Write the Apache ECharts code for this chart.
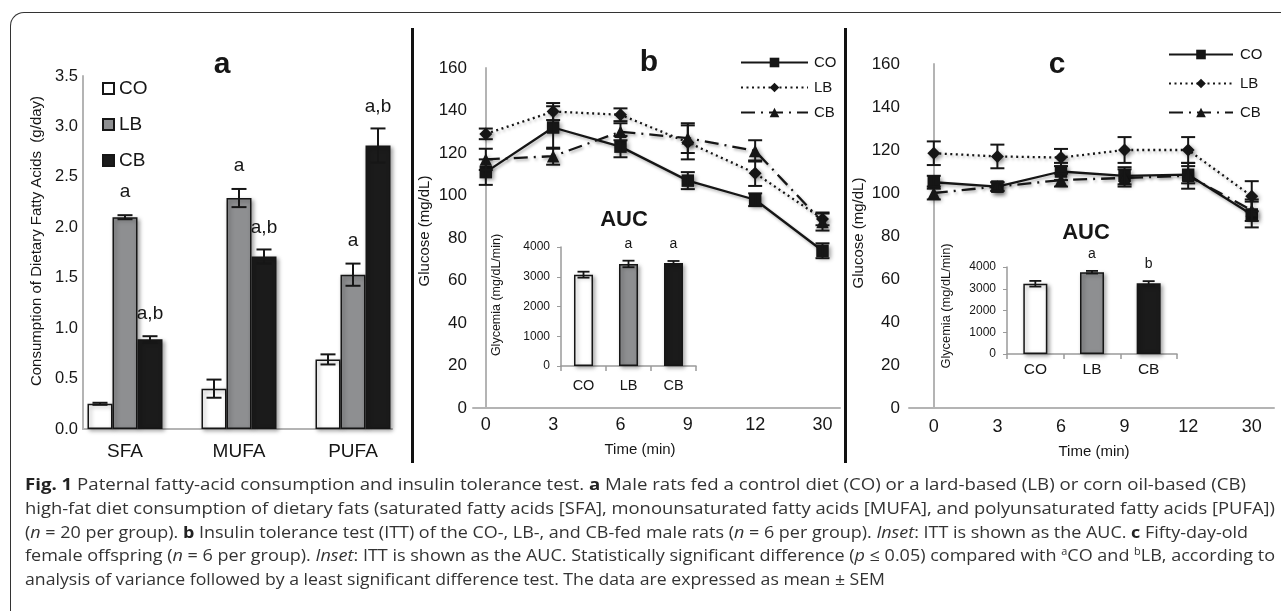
<!DOCTYPE html>
<html>
<head>
<meta charset="utf-8">
<script src="https://cdn.jsdelivr.net/npm/echarts/dist/echarts.min.js"></script>
<style>
  html, body { margin: 0; padding: 0; background: #fff; }
  body { width: 1281px; height: 611px; overflow: hidden; position: relative; }
  #chart { position: absolute; left: 0; top: 0; width: 1281px; height: 611px; }
  #frame { position: absolute; left: 10px; top: 12px; width: 1400px; height: 700px;
           border-top: 1.4px solid #333; border-left: 1.4px solid #333; border-top-left-radius: 14px; pointer-events: none; }
  .sep { position: absolute; top: 28px; width: 3px; height: 435px; background: #111; }
  #caption { position: absolute; left: 25px; top: 472px; font-family: "Open Sans", "Noto Sans", sans-serif;
             font-size: 16.5px; color: #333; line-height: 23.8px; }
  #caption .ln { white-space: nowrap; display: block; transform-origin: 0 50%; width: max-content; }
  #caption b { color: #222; font-weight: 700; }
  #caption sup { font-size: 10px; line-height: 0; vertical-align: 6px; }
</style>
</head>
<body>
<div id="chart"></div>
<div id="frame"></div>
<div class="sep" style="left:411px"></div>
<div class="sep" style="left:844px"></div>
<div id="caption">
  <span class="ln" data-w="1221"><b>Fig. 1</b> Paternal fatty-acid consumption and insulin tolerance test. <b>a</b> Male rats fed a control diet (CO) or a lard-based (LB) or corn oil-based (CB)</span>
  <span class="ln" data-w="1250">high-fat diet consumption of dietary fats (saturated fatty acids [SFA], monounsaturated fatty acids [MUFA], and polyunsaturated fatty acids [PUFA])</span>
  <span class="ln" data-w="1223">(<i>n</i> = 20 per group). <b>b</b> Insulin tolerance test (ITT) of the CO-, LB-, and CB-fed male rats (<i>n</i> = 6 per group). <i>Inset</i>: ITT is shown as the AUC. <b>c</b> Fifty-day-old</span>
  <span class="ln" data-w="1250">female offspring (<i>n</i> = 6 per group). <i>Inset</i>: ITT is shown as the AUC. Statistically significant difference (<i>p</i> ≤ 0.05) compared with <sup>a</sup>CO and <sup>b</sup>LB, according to</span>
  <span class="ln" data-w="860">analysis of variance followed by a least significant difference test. The data are expressed as mean ± SEM</span>
</div>
<script>
// ---------------- DATA ----------------
const faCategories = ['SFA', 'MUFA', 'PUFA'];
const faCO    = [0.25, 0.40, 0.69];
const faCOErr = [0.01, 0.09, 0.05];
const faLB    = [2.10, 2.29, 1.53];
const faLBErr = [0.02, 0.09, 0.11];
const faCB    = [0.89, 1.71, 2.81];
const faCBErr = [0.03, 0.07, 0.17];
const faCOSig = ['', '', ''];
const faLBSig = ['a', 'a', 'a'];
const faCBSig = ['a,b', 'a,b', 'a,b'];

const timeLabels = ['0', '3', '6', '9', '12', '30'];
// panel b: male rats ITT
const bCO    = [111, 132, 123, 107, 98, 74];
const bCOErr = [6, 10, 5, 4, 3, 3.5];
const bLB    = [129, 139.5, 138, 125, 110.5, 89];
const bLBErr = [2.5, 4, 3, 8, 6, 3];
const bCB    = [117, 118.5, 130, 127, 121, 87.5];
const bCBErr = [5, 4, 4, 7, 5, 4];
// panel c: female offspring ITT
const cCO    = [105, 103, 110, 108, 108.5, 90];
const cCOErr = [3, 2, 4, 4, 4, 6];
const cLB    = [118.5, 117, 116.5, 120, 120, 98.5];
const cLBErr = [5.5, 5.5, 4, 6, 6, 7];
const cCB    = [100, 103, 106, 107, 108, 92];
const cCBErr = [3, 2, 3, 4, 6, 5];

// AUC insets
const aucGroups = ['CO', 'LB', 'CB'];
const bAUC    = [3070, 3430, 3460];
const bAUCErr = [100, 110, 70];
const bAUCSig = ['', 'a', 'a'];
const cAUC    = [3230, 3760, 3250];
const cAUCErr = [130, 60, 100];
const cAUCSig = ['', 'a', 'b'];

// ---------------- STYLE ----------------
const FONT = '"Liberation Sans", Arial, Helvetica, sans-serif';
const INK = '#161616';
const AXIS_GRAY = '#b4b4b4';
const groupColors = ['#ffffff', '#8e8f91', '#1b1b1b'];
const barShadow = { shadowColor: 'rgba(0,0,0,0.35)', shadowBlur: 4, shadowOffsetX: 2, shadowOffsetY: 2 };

function errSeries(xi, yi, vals, errs, offset, capW, lw, labels, labelGap, labelSize) {
  return {
    type: 'custom', xAxisIndex: xi, yAxisIndex: yi, z: 6, silent: true,
    data: vals.map((v, i) => [i, v, errs[i]]),
    renderItem: function (params, api) {
      const x = api.value(0), v = api.value(1), e = api.value(2);
      const top = api.coord([x, v + e]);
      const bot = api.coord([x, v - e]);
      const cx = top[0] + offset, h = capW / 2;
      const st = { stroke: INK, lineWidth: lw };
      const ch = [
        { type: 'line', shape: { x1: cx, y1: top[1], x2: cx, y2: bot[1] }, style: st },
        { type: 'line', shape: { x1: cx - h, y1: top[1], x2: cx + h, y2: top[1] }, style: st },
        { type: 'line', shape: { x1: cx - h, y1: bot[1], x2: cx + h, y2: bot[1] }, style: st }
      ];
      const lab = labels ? labels[params.dataIndex] : '';
      if (lab) {
        ch.push({ type: 'text', x: cx, y: top[1] - labelGap,
          style: { text: lab, fill: INK, font: labelSize + 'px ' + FONT, textAlign: 'center', textVerticalAlign: 'middle' } });
      }
      return { type: 'group', children: ch };
    }
  };
}

function idxFormatter(v) {
  const r = Math.round(v);
  return Math.abs(v - r) < 1e-6 && r >= 0 && r < timeLabels.length ? timeLabels[r] : '';
}

function lineSeries(name, xi, yi, vals, symbol, size, lineType) {
  return {
    name: name, type: 'line', xAxisIndex: xi, yAxisIndex: yi, z: 4,
    data: vals.map((v, i) => [i, v]),
    symbol: symbol, symbolSize: size, showSymbol: true,
    itemStyle: { color: INK, shadowColor: 'rgba(0,0,0,0.4)', shadowBlur: 4, shadowOffsetX: 2, shadowOffsetY: 2 },
    lineStyle: { color: INK, width: 2.3, type: lineType, shadowColor: 'rgba(0,0,0,0.3)', shadowBlur: 3, shadowOffsetX: 1.5, shadowOffsetY: 2 },
    emphasis: { disabled: true }
  };
}

function text(x, y, str, size, bold, rot) {
  return { type: 'text', x: x, y: y, rotation: rot || 0, silent: true,
    style: { text: str, fill: INK, font: (bold ? 'bold ' : '') + size + 'px ' + FONT, textAlign: 'center', textVerticalAlign: 'middle' } };
}

const chart = echarts.init(document.getElementById('chart'), null, { renderer: 'canvas' });

const hiddenAxis = { axisLine: { show: false }, axisTick: { show: false }, axisLabel: { show: false }, splitLine: { show: false } };
const plain = v => String(v);

const option = {
  backgroundColor: '#ffffff',
  animation: false,
  textStyle: { fontFamily: FONT, color: INK },
  grid: [
    { left: 83, top: 76, width: 309, height: 353 },   // 0 panel a frame
    { left: 68, top: 76, width: 342, height: 353 },   // 1 panel a bars
    { left: 473, top: 68, width: 367, height: 340 },  // 2 panel b lines
    { left: 561, top: 247, width: 135, height: 119 }, // 3 panel b inset
    { left: 909, top: 64, width: 365, height: 344 },  // 4 panel c lines
    { left: 1007, top: 267, width: 170, height: 87 }  // 5 panel c inset
  ],
  xAxis: [
    Object.assign({ type: 'category', gridIndex: 0, data: faCategories }, hiddenAxis,
      { axisLine: { show: true, lineStyle: { color: AXIS_GRAY, width: 2 } } }),
    { type: 'category', gridIndex: 1, data: faCategories, axisLine: { show: false }, axisTick: { show: false },
      splitLine: { show: false }, axisLabel: { fontSize: 19, color: INK, margin: 13, fontFamily: FONT } },
    { type: 'value', gridIndex: 2, min: -0.19, max: 5.26, splitNumber: 5,
      axisLine: { show: true, lineStyle: { color: AXIS_GRAY, width: 2 } }, axisTick: { show: false }, splitLine: { show: false },
      axisLabel: { fontSize: 18, color: INK, margin: 8, formatter: idxFormatter, showMinLabel: true, showMaxLabel: true } },
    { type: 'category', gridIndex: 3, data: aucGroups,
      axisLine: { show: true, lineStyle: { color: '#9a9a9a', width: 1.5 } },
      axisTick: { show: true, length: 5, lineStyle: { color: '#9a9a9a', width: 1.5 } }, splitLine: { show: false },
      axisLabel: { fontSize: 14.5, color: INK, margin: 12 } },
    { type: 'value', gridIndex: 4, min: -0.39, max: 5.35, splitNumber: 5,
      axisLine: { show: true, lineStyle: { color: AXIS_GRAY, width: 2 } }, axisTick: { show: false }, splitLine: { show: false },
      axisLabel: { fontSize: 18, color: INK, margin: 10, formatter: idxFormatter } },
    { type: 'category', gridIndex: 5, data: aucGroups,
      axisLine: { show: true, lineStyle: { color: '#9a9a9a', width: 1.5 } },
      axisTick: { show: true, length: 5, lineStyle: { color: '#9a9a9a', width: 1.5 } }, splitLine: { show: false },
      axisLabel: { fontSize: 15.5, color: INK, margin: 8 } }
  ],
  yAxis: [
    { type: 'value', gridIndex: 0, min: 0, max: 3.5, interval: 0.5,
      axisLine: { show: true, lineStyle: { color: AXIS_GRAY, width: 2 } }, axisTick: { show: false }, splitLine: { show: false },
      axisLabel: { fontSize: 16.5, color: INK, margin: 5, formatter: v => v.toFixed(1) } },
    Object.assign({ type: 'value', gridIndex: 1, min: 0, max: 3.5, interval: 0.5 }, hiddenAxis),
    { type: 'value', gridIndex: 2, min: 0, max: 160, interval: 20,
      axisLine: { show: true, lineStyle: { color: AXIS_GRAY, width: 2 } }, axisTick: { show: false }, splitLine: { show: false },
      axisLabel: { fontSize: 17, color: INK, margin: 6, formatter: plain } },
    { type: 'value', gridIndex: 3, min: 0, max: 4000, interval: 1000,
      axisLine: { show: true, lineStyle: { color: '#9a9a9a', width: 1.5 } },
      axisTick: { show: true, length: 4, lineStyle: { color: '#9a9a9a' } }, splitLine: { show: false },
      axisLabel: { fontSize: 12, color: INK, margin: 11, formatter: plain } },
    { type: 'value', gridIndex: 4, min: 0, max: 160, interval: 20,
      axisLine: { show: true, lineStyle: { color: AXIS_GRAY, width: 2 } }, axisTick: { show: false }, splitLine: { show: false },
      axisLabel: { fontSize: 17, color: INK, margin: 9, formatter: plain } },
    { type: 'value', gridIndex: 5, min: 0, max: 4000, interval: 1000,
      axisLine: { show: true, lineStyle: { color: '#9a9a9a', width: 1.5 } },
      axisTick: { show: true, length: 4, lineStyle: { color: '#9a9a9a' } }, splitLine: { show: false },
      axisLabel: { fontSize: 12, color: INK, margin: 11, formatter: plain } }
  ],
  legend: [
    { data: ['CO', 'LB', 'CB'], orient: 'vertical', left: 102, top: 79, padding: 0,
      itemWidth: 11, itemHeight: 11, itemGap: 17, icon: 'rect', selectedMode: false,
      textStyle: { fontSize: 19, color: INK, fontFamily: FONT } },
    { data: ['CO ', 'LB ', 'CB '], orient: 'vertical', left: 740, top: 55, padding: 0,
      itemWidth: 67, itemHeight: 12, itemGap: 10, selectedMode: false, formatter: n => n.trim(),
      textStyle: { fontSize: 15, color: INK, fontFamily: FONT, padding: [0, 0, 0, 1] } },
    { data: ['CO  ', 'LB  ', 'CB  '], orient: 'vertical', left: 1168, top: 47, padding: 0,
      itemWidth: 64, itemHeight: 12, itemGap: 14, selectedMode: false, formatter: n => n.trim(),
      textStyle: { fontSize: 15, color: INK, fontFamily: FONT, padding: [0, 0, 0, 2] } }
  ],
  graphic: [
    text(222, 65, 'a', 30, true),
    text(649, 63, 'b', 30, true),
    text(1057, 65, 'c', 30, true),
    text(624, 220, 'AUC', 22, true),
    text(1086, 233, 'AUC', 22, true),
    text(37, 241, 'Consumption of Dietary Fatty Acids  (g/day)', 15, false, Math.PI / 2),
    text(425, 231, 'Glucose (mg/dL)', 15, false, Math.PI / 2),
    text(859, 233, 'Glucose (mg/dL)', 15, false, Math.PI / 2),
    text(497, 295, 'Glycemia (mg/dL/min)', 12.5, false, Math.PI / 2),
    text(946, 306, 'Glycemia (mg/dL/min)', 12.8, false, Math.PI / 2),
    text(640, 450, 'Time (min)', 15, false),
    text(1094, 452, 'Time (min)', 15, false)
  ],
  series: [
    // panel a bars
    { name: 'CO', type: 'bar', xAxisIndex: 1, yAxisIndex: 1, data: faCO, barWidth: 25, barGap: '0%',
      itemStyle: Object.assign({ color: groupColors[0], borderColor: INK, borderWidth: 1.5 }, barShadow), emphasis: { disabled: true } },
    { name: 'LB', type: 'bar', xAxisIndex: 1, yAxisIndex: 1, data: faLB, barWidth: 25, barGap: '0%',
      itemStyle: Object.assign({ color: groupColors[1], borderColor: INK, borderWidth: 1.5 }, barShadow), emphasis: { disabled: true } },
    { name: 'CB', type: 'bar', xAxisIndex: 1, yAxisIndex: 1, data: faCB, barWidth: 25, barGap: '0%',
      itemStyle: Object.assign({ color: groupColors[2], borderColor: INK, borderWidth: 1.5 }, barShadow), emphasis: { disabled: true } },
    errSeries(1, 1, faCO, faCOErr, -25, 15, 2, faCOSig, 22, 19),
    errSeries(1, 1, faLB, faLBErr, 0, 15, 2, faLBSig, 23, 19),
    errSeries(1, 1, faCB, faCBErr, 25, 15, 2, faCBSig, 22, 19),

    // panel b lines
    lineSeries('CO ', 2, 2, bCO, 'rect', 12.5, 'solid'),
    lineSeries('LB ', 2, 2, bLB, 'diamond', 13, [2, 3.5]),
    lineSeries('CB ', 2, 2, bCB, 'triangle', 12.5, [14, 6, 2, 6]),
    errSeries(2, 2, bCO, bCOErr, 0, 14, 2),
    errSeries(2, 2, bLB, bLBErr, 0, 14, 2),
    errSeries(2, 2, bCB, bCBErr, 0, 14, 2),

    // panel b inset
    { name: 'AUC male', type: 'bar', xAxisIndex: 3, yAxisIndex: 3, barWidth: 19,
      data: bAUC.map((v, i) => ({ value: v, itemStyle: { color: groupColors[i] } })),
      itemStyle: Object.assign({ borderColor: INK, borderWidth: 1.5 }, barShadow), emphasis: { disabled: true } },
    errSeries(3, 3, bAUC, bAUCErr, 0, 12, 1.8, bAUCSig, 17, 14),

    // panel c lines
    lineSeries('CO  ', 4, 4, cCO, 'rect', 12.5, 'solid'),
    lineSeries('LB  ', 4, 4, cLB, 'diamond', 13, [2, 3.5]),
    lineSeries('CB  ', 4, 4, cCB, 'triangle', 12.5, [14, 6, 2, 6]),
    errSeries(4, 4, cCO, cCOErr, 0, 14, 2),
    errSeries(4, 4, cLB, cLBErr, 0, 14, 2),
    errSeries(4, 4, cCB, cCBErr, 0, 14, 2),

    // panel c inset
    { name: 'AUC female', type: 'bar', xAxisIndex: 5, yAxisIndex: 5, barWidth: 24,
      data: cAUC.map((v, i) => ({ value: v, itemStyle: { color: groupColors[i] } })),
      itemStyle: Object.assign({ borderColor: INK, borderWidth: 1.5 }, barShadow), emphasis: { disabled: true } },
    errSeries(5, 5, cAUC, cAUCErr, 0, 12, 1.8, cAUCSig, 17, 14)
  ]
};
chart.setOption(option);

// fit caption lines to the reference line lengths
function fitCaption() {
  document.querySelectorAll('#caption .ln').forEach(el => {
    el.style.transform = 'none';
    const w = el.getBoundingClientRect().width;
    const target = parseFloat(el.getAttribute('data-w'));
    if (w > 0) el.style.transform = 'scaleX(' + (target / w) + ')';
  });
}
fitCaption();
if (document.fonts && document.fonts.ready) document.fonts.ready.then(fitCaption);
</script>
</body>
</html>
